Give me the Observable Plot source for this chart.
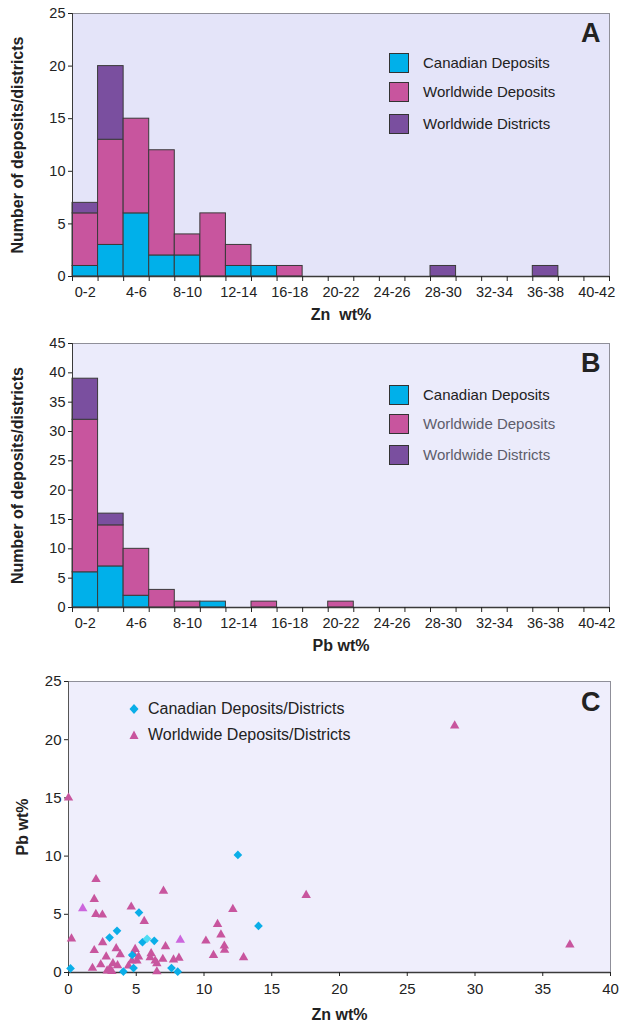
<!DOCTYPE html>
<html><head><meta charset="utf-8">
<script src="https://cdn.jsdelivr.net/npm/d3@7"></script>
<script src="https://cdn.jsdelivr.net/npm/@observablehq/plot@0.6"></script>
<style>
body{margin:0;background:#fff;width:620px;height:1025px;position:relative;overflow:hidden;font-family:"Liberation Sans",Arial,sans-serif;}
.panel{position:absolute;left:0;width:620px;}
.legend{position:absolute;font-size:15px;color:#222;}
.row{position:absolute;white-space:nowrap;line-height:20px;height:20px;}
.sw{position:absolute;left:0;top:0;width:20px;height:20px;border:1px solid #333;box-sizing:border-box;}
.lt{position:absolute;left:34px;top:0;}
.grey{color:#5d5d6b;}
svg [aria-label$="axis label"] text{font-weight:bold;font-size:16px;}
</style>
</head><body>
<div class="panel" id="pa" style="top:0"></div>
<div class="panel" id="pb" style="top:330px"></div>
<div class="panel" id="pc" style="top:665px"></div>
<script>
// ---- Histogram data (A: Zn wt%, B: Pb wt%) ----
const binLabels = ["0-2","2-4","4-6","6-8","8-10","10-12","12-14","14-16","16-18","18-20","20-22","22-24","24-26","26-28","28-30","30-32","32-34","34-36","36-38","38-40","40-42"];
const seriesNames = ["Canadian Deposits","Worldwide Deposits","Worldwide Districts"];
const seriesColors = ["#00b0ea","#c8559e","#7a4f9f"];

const znCanadian       = [1,3,6,2,2,0,1,1,0,0,0,0,0,0,0,0,0,0,0,0,0];
const znWorldDeposits  = [5,10,9,10,2,6,2,0,1,0,0,0,0,0,0,0,0,0,0,0,0];
const znWorldDistricts = [1,7,0,0,0,0,0,0,0,0,0,0,0,0,1,0,0,0,1,0,0];

const pbCanadian       = [6,7,2,0,0,1,0,0,0,0,0,0,0,0,0,0,0,0,0,0,0];
const pbWorldDeposits  = [26,7,8,3,1,0,0,1,0,0,1,0,0,0,0,0,0,0,0,0,0];
const pbWorldDistricts = [7,2,0,0,0,0,0,0,0,0,0,0,0,0,0,0,0,0,0,0,0];

const yTicksA = [0,5,10,15,20,25];
const yTicksB = [0,5,10,15,20,25,30,35,40,45];

// ---- Scatter data (C) ----
const canadianZn = [0.15,3.03,3.58,4.05,4.70,4.80,5.20,5.46,6.33,7.60,8.06,12.5,14.02];
const canadianPb = [0.35,3.00,3.58,0.08,1.50,0.38,5.15,2.60,2.72,0.38,0.07,10.1,4.00];
const canadianLightZn = [5.80];
const canadianLightPb = [2.90];

const worldZn = [0.0,0.22,1.90,2.03,2.02,2.50,1.90,2.52,1.77,2.38,2.78,2.85,3.05,3.20,3.52,3.82,3.62,3.28,
  4.63,5.59,4.92,4.80,5.17,4.68,4.43,5.05,6.10,6.03,6.40,6.52,6.96,7.75,8.15,6.52,7.01,7.16,
  10.14,11.0,11.25,11.5,11.52,10.7,12.13,12.92,17.54,28.5,37.0];
const worldPb = [15.0,2.90,6.30,8.00,5.00,4.95,1.90,2.58,0.38,0.68,1.35,0.15,0.30,0.10,2.06,1.55,0.60,0.78,
  5.64,4.40,2.00,1.58,1.35,1.00,0.57,1.00,1.63,1.29,1.00,0.77,1.15,1.09,1.24,0.08,7.00,2.23,
  2.72,4.15,3.24,2.29,1.92,1.49,5.44,1.29,6.64,21.2,2.38];
const worldLightZn = [1.05,8.25];
const worldLightPb = [5.50,2.80];

const xTicksC = [0,5,10,15,20,25,30,35,40];
const yTicksC = [0,5,10,15,20,25];

// ---- Histogram builder ----
function histogram(el, cols, yTicks, xLabel, letter, bg, height, mt, mb) {
  const rows = [];
  const bins = binLabels.map(l => l.split("-").map(Number));
  bins.forEach(([lo, hi], i) => {
    cols.forEach((arr, s) => { if (arr[i] > 0) rows.push({lo, hi, series: seriesNames[s], value: arr[i]}); });
  });
  const edges = bins.map(b => b[0]).concat([bins[bins.length - 1][1]]);
  const labelled = bins.filter((b, i) => i % 2 === 0).map(b => (b[0] + b[1]) / 2);
  const labelOf = new Map(bins.map((b, i) => [(b[0] + b[1]) / 2, binLabels[i]]));
  const yMax = yTicks[yTicks.length - 1];
  const p = Plot.plot({
    width: 620, height, marginLeft: 72, marginRight: 11, marginTop: mt, marginBottom: mb,
    style: {fontFamily: "Liberation Sans, Arial, sans-serif", fontSize: "14.5px", color: "#222", background: "transparent", overflow: "visible"},
    x: {domain: [edges[0], edges[edges.length - 1]]},
    y: {domain: [0, yMax]},
    color: {domain: seriesNames, range: seriesColors},
    marks: [
      Plot.frame({fill: bg, stroke: "#8f8f99"}),
      Plot.rectY(rows, {x1: "lo", x2: "hi", y: "value", fill: "series", stroke: "#3a3a3a", strokeWidth: 1, order: seriesNames}),
      Plot.ruleY([0], {stroke: "#3a3a3a", strokeWidth: 1.5}),
      Plot.ruleX([edges[0]], {stroke: "#3a3a3a", strokeWidth: 1}),
      Plot.axisY({ticks: yTicks, tickSize: 4, tickPadding: 3, label: "Number of deposits/districts", labelAnchor: "center", labelArrow: "none", labelOffset: 61}),
      Plot.axisX({ticks: edges, tickSize: 5, tickFormat: () => "", label: null}),
      Plot.axisX(labelled, {tickSize: 0, tickPadding: 10, tickFormat: d => labelOf.get(d), label: xLabel, labelAnchor: "center", labelArrow: "none", labelOffset: 43}),
      Plot.text([letter], {frameAnchor: "top-right", textAnchor: "end", lineAnchor: "top", dx: -9, dy: 9, fontSize: 27, fontWeight: "bold", fill: "#222"})
    ]
  });
  el.appendChild(p);
}

function addLegend(el, left, tops, greyRows) {
  const lg = document.createElement("div");
  lg.className = "legend";
  lg.style.left = left + "px"; lg.style.top = "0px";
  seriesNames.forEach((n, i) => {
    const r = document.createElement("div");
    r.className = "row"; r.style.top = tops[i] + "px"; r.style.left = "0px";
    r.innerHTML = `<div class="sw" style="background:${seriesColors[i]}"></div><div class="lt ${greyRows.includes(i) ? "grey" : ""}">${n}</div>`;
    lg.appendChild(r);
  });
  el.appendChild(lg);
}

const pa = document.getElementById("pa");
histogram(pa, [znCanadian, znWorldDeposits, znWorldDistricts], yTicksA, "Zn\u00a0\u00a0wt%", "A", "#e4e4f9", 330, 13, 54);
addLegend(pa, 389, [53, 82, 114], []);

const pb = document.getElementById("pb");
histogram(pb, [pbCanadian, pbWorldDeposits, pbWorldDistricts], yTicksB, "Pb wt%", "B", "#ebebfb", 335, 13, 58);
addLegend(pb, 389, [55, 84, 115], [1, 2]);

// ---- Scatter ----
const toRows = (xs, ys) => xs.map((x, i) => ({zn: x, pb: ys[i]}));
const pc = document.getElementById("pc");
const sc = Plot.plot({
  width: 620, height: 360, marginLeft: 68, marginRight: 10, marginTop: 16, marginBottom: 53,
  style: {fontFamily: "Liberation Sans, Arial, sans-serif", fontSize: "15px", color: "#222", background: "transparent", overflow: "visible"},
  x: {domain: [xTicksC[0], xTicksC[xTicksC.length - 1]]},
  y: {domain: [yTicksC[0], yTicksC[yTicksC.length - 1]]},
  marks: [
    Plot.frame({fill: "#efeefc", stroke: "#8f8f99"}),
    Plot.ruleY([0], {stroke: "#3a3a3a", strokeWidth: 1.5}),
    Plot.ruleX([0], {stroke: "#555", strokeWidth: 1}),
    Plot.axisY({ticks: yTicksC, tickSize: 4, tickPadding: 3, label: "Pb wt%", labelAnchor: "center", labelArrow: "none", labelOffset: 52}),
    Plot.axisX({ticks: xTicksC, tickSize: 4, tickPadding: 7, label: "Zn wt%", labelAnchor: "center", labelArrow: "none", labelOffset: 47}),
    Plot.dot(toRows(worldZn, worldPb), {x: "zn", y: "pb", symbol: "triangle", r: 3.5, fill: "#c8559e", stroke: "none"}),
    Plot.dot(toRows(worldLightZn, worldLightPb), {x: "zn", y: "pb", symbol: "triangle", r: 3.5, fill: "#cc66dd", stroke: "none"}),
    Plot.dot(toRows(canadianZn, canadianPb), {x: "zn", y: "pb", symbol: "diamond2", r: 3.9, fill: "#0aaee8", stroke: "none"}),
    Plot.dot(toRows(canadianLightZn, canadianLightPb), {x: "zn", y: "pb", symbol: "diamond2", r: 3.9, fill: "#4fdcf4", stroke: "none"}),
    Plot.text(["C"], {frameAnchor: "top-right", textAnchor: "end", lineAnchor: "top", dx: -10, dy: 10, fontSize: 27, fontWeight: "bold", fill: "#222"})
  ]
});
pc.appendChild(sc);

const lc = document.createElement("div");
lc.className = "legend";
lc.style.left = "128px"; lc.style.top = "0px"; lc.style.fontSize = "16px";
lc.innerHTML = `
<div class="row" style="top:34px;left:0"><svg width="12" height="20" style="position:absolute;left:0;top:0"><path d="M6,5 L10.5,10 L6,15 L1.5,10Z" fill="#0aaee8"/></svg><div style="position:absolute;left:20px;top:0">Canadian Deposits/Districts</div></div>
<div class="row" style="top:60px;left:0"><svg width="12" height="20" style="position:absolute;left:0;top:0"><path d="M6,5.5 L10.5,14 L1.5,14Z" fill="#c8559e"/></svg><div style="position:absolute;left:20px;top:0">Worldwide Deposits/Districts</div></div>`;
pc.appendChild(lc);
</script>
</body></html>
